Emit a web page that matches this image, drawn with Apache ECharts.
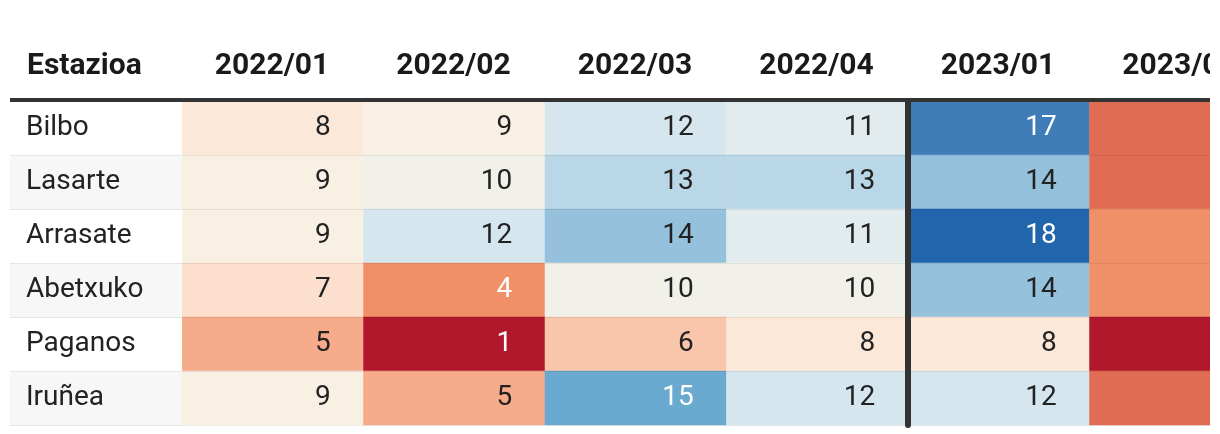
<!DOCTYPE html>
<html>
<head>
<meta charset="utf-8">
<script src="https://cdn.jsdelivr.net/npm/echarts@6/dist/echarts.min.js"></script>
<style>
html,body{margin:0;padding:0;background:#ffffff;}
#wrap{position:absolute;left:10px;top:0;width:1200px;height:434px;overflow:hidden;}
#c{position:absolute;left:0;top:0;width:1270px;height:434px;}
</style>
</head>
<body>
<div id="wrap"><div id="c"></div></div>
<script>
// ---- data ----
const stations = ['Bilbo', 'Lasarte', 'Arrasate', 'Abetxuko', 'Paganos', 'Iruñea'];
const nameHeader = ['Estazioa'];
const periods2022 = ['2022/01', '2022/02', '2022/03', '2022/04'];
const periods2023 = ['2023/01', '2023/02'];
const values2022 = [
  [8, 9, 12, 11],
  [9, 10, 13, 13],
  [9, 12, 14, 11],
  [7, 4, 10, 10],
  [5, 1, 6, 8],
  [9, 5, 15, 12]
];
const values2023 = [
  [17, 3],
  [14, 3],
  [18, 4],
  [14, 4],
  [8, 1],
  [12, 3]
];

// ---- style ----
const FONT = 'Roboto';
const scaleColors = ['#b2182b', '#c9423f', '#e06c54', '#f09069', '#f6ab8b', '#fac6ab',
  '#fcdfcc', '#fbe8d9', '#f9f0e4', '#f1f1ea', '#e2ecef', '#d5e6ef', '#bad7e8',
  '#96c1dc', '#6baad0', '#5594c5', '#3f7db9', '#2166ac'];

function toCells(rows) {
  const out = [];
  rows.forEach((r, yi) => r.forEach((v, xi) => out.push([xi, yi, v])));
  return out;
}

const gridTop = 101, gridH = 324;

function headerAxis(gridIndex, data, isName) {
  return {
    type: 'category', gridIndex, data, position: 'top', z: 6, offset: 1,
    axisLine: { show: true, lineStyle: { color: '#333333', width: 4 } },
    axisTick: { show: false },
    splitLine: { show: false },
    axisLabel: {
      margin: 17, interval: 0,
      formatter: v => (isName ? '{n|' : '{h|') + v + '}',
      rich: {
        h: { width: 147, align: 'right', padding: [0, 34, 0, 0], fontFamily: FONT, fontSize: 30, fontWeight: 'bold', color: '#1a1a1a', lineHeight: 34 },
        n: { width: 155, align: 'left', padding: [0, 0, 0, 17], fontFamily: FONT, fontSize: 30, fontWeight: 'bold', color: '#1a1a1a', lineHeight: 34 }
      }
    }
  };
}

function rowAxis(gridIndex, showLabels, lineColor, thick) {
  return {
    type: 'category', gridIndex, data: stations, inverse: true, z: 5,
    axisLine: thick ? { show: true, lineStyle: { color: '#333333', width: 6 } } : { show: false },
    axisTick: { show: false },
    splitLine: { show: true, lineStyle: { color: lineColor, width: 1 } },
    splitArea: showLabels ? { show: true, areaStyle: { color: ['#ffffff', '#f7f7f7'] } } : { show: false },
    axisLabel: showLabels ? {
      show: true, inside: true, align: 'left', margin: 16, interval: 0,
      fontFamily: FONT, fontSize: 28, color: '#222222'
    } : { show: false }
  };
}

function cellLabel() {
  return {
    show: true, position: 'insideRight', distance: 33,
    formatter: p => {
      const v = p.value[2];
      return (v <= 4 || v >= 15 ? '{w|' : '{d|') + v + '}';
    },
    rich: {
      w: { color: '#ffffff', fontFamily: FONT, fontSize: 28 },
      d: { color: '#222222', fontFamily: FONT, fontSize: 28 }
    }
  };
}

const chart = echarts.init(document.getElementById('c'), null, { renderer: 'canvas' });
chart.setOption({
  animation: false,
  backgroundColor: '#ffffff',
  grid: [
    { left: 0, top: gridTop, width: 172, height: gridH, outerBoundsMode: 'none', containLabel: false },
    { left: 172, top: gridTop, width: 726, height: gridH, outerBoundsMode: 'none', containLabel: false },
    { left: 898, top: gridTop, width: 363, height: gridH, outerBoundsMode: 'none', containLabel: false }
  ],
  xAxis: [
    headerAxis(0, nameHeader, true),
    headerAxis(1, periods2022, false),
    headerAxis(2, periods2023, false)
  ],
  yAxis: [
    rowAxis(0, true, '#e6e6e6', false),
    rowAxis(1, false, 'rgba(0,0,0,0.07)', false),
    rowAxis(2, false, 'rgba(0,0,0,0.07)', true)
  ],
  visualMap: {
    show: false, type: 'continuous', min: 1, max: 18, seriesIndex: [0, 1],
    inRange: { color: scaleColors }
  },
  series: [
    {
      type: 'heatmap', xAxisIndex: 1, yAxisIndex: 1,
      data: toCells(values2022), label: cellLabel(),
      emphasis: { disabled: true }, itemStyle: { borderWidth: 0 }
    },
    {
      type: 'heatmap', xAxisIndex: 2, yAxisIndex: 2,
      data: toCells(values2023), label: cellLabel(),
      emphasis: { disabled: true }, itemStyle: { borderWidth: 0 }
    }
  ]
});
</script>
</body>
</html>
